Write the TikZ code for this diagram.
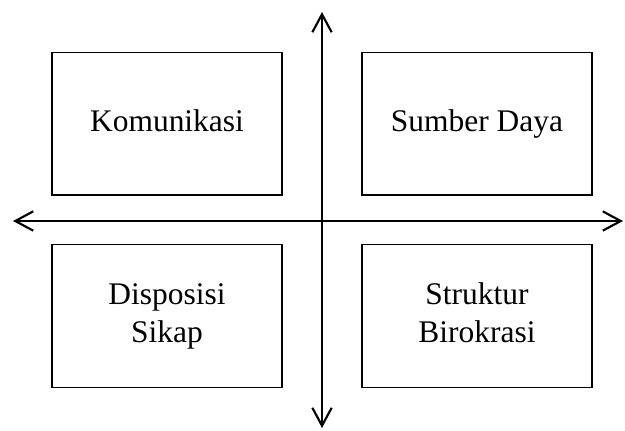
\documentclass[tikz,border=0pt]{standalone}
\usepackage{fontspec}
\setmainfont{Liberation Serif}
\usetikzlibrary{arrows.meta}
\begin{document}
\begin{tikzpicture}[x=0.75pt,y=-0.75pt,
  quadbox/.style={draw=black, line width=1pt, rectangle,
    minimum width=172.5pt, minimum height=107pt, inner sep=0pt,
    align=center, font=\fontsize{23.6}{28.5}\selectfont},
  axis/.style={line width=1.6pt,
    {Straight Barb[length=13.5pt,width=14.5pt,line width=1.6pt]}-{Straight Barb[length=13.5pt,width=14.5pt,line width=1.6pt]}}]
  \useasboundingbox (0,0) rectangle (625,430);

  % four quadrant boxes
  \node[quadbox] (kom) at (167,123.5) {\strut Komunikasi};
  \node[quadbox] (sd)  at (477,123.5) {\strut Sumber Daya};
  \node[quadbox] (ds)  at (167,316)   {\strut Disposisi\\\strut Sikap};
  \node[quadbox] (sb)  at (477,316)   {\strut Struktur\\\strut Birokrasi};

  % axis ends
  \coordinate (west)  at (13,221);
  \coordinate (east)  at (623,221);
  \coordinate (north) at (322,12);
  \coordinate (south) at (322,428);

  \draw[axis] (west) -- (east);
  \draw[axis] (south) -- (north);
\end{tikzpicture}
\end{document}
